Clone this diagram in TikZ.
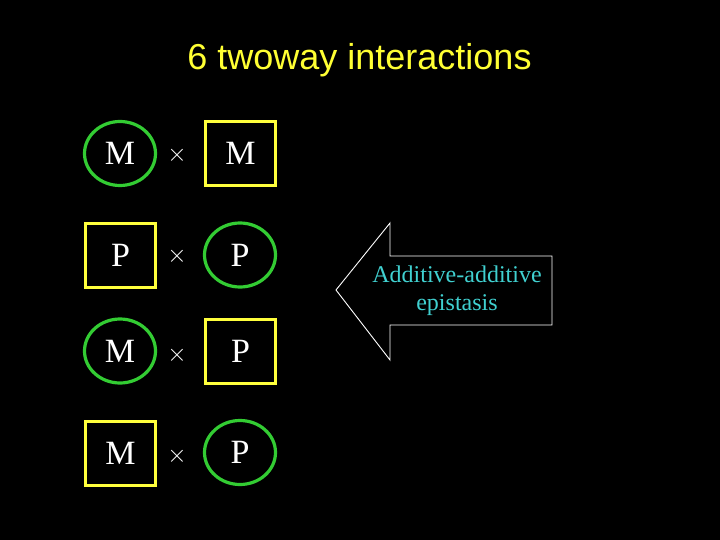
\documentclass[tikz,border=0pt]{standalone}
\usepackage{fontspec}
\setmainfont{Liberation Serif}
\newfontfamily\arialfont{Liberation Sans}
\usetikzlibrary{shapes.geometric}
\definecolor{ttlyellow}{RGB}{255,255,51}
\definecolor{boxyellow}{RGB}{255,255,60}
\definecolor{ringgreen}{RGB}{51,204,51}
\definecolor{tealtext}{RGB}{64,208,208}
\begin{document}
\begin{tikzpicture}[x=1pt,y=-1pt,
  ring/.style={draw=ringgreen,line width=3.2pt,ellipse,minimum width=71pt,minimum height=64pt,inner sep=0pt,text=white,font=\fontsize{34}{34}\selectfont},
  sqbox/.style={draw=boxyellow,line width=3pt,rectangle,minimum width=70pt,minimum height=64pt,inner sep=0pt,text=white,font=\fontsize{34}{34}\selectfont},
  timesnode/.style={text=white,font=\fontsize{30}{30}\selectfont,inner sep=0pt}]
\fill[black] (0,0) rectangle (720,540);
\useasboundingbox (0,0) rectangle (720,540);
\node[text=ttlyellow,font=\arialfont\fontsize{36}{36}\selectfont] (title) at (359.5,60) {6 twoway interactions};
% row 1
\node[ring] (a1) at (120,153.5) {M};
\node[timesnode] (x1) at (177,155) {$\times$};
\node[sqbox] (b1) at (240.5,153.5) {M};
% row 2
\node[sqbox] (a2) at (120.5,255.5) {P};
\node[timesnode] (x2) at (177,256) {$\times$};
\node[ring] (b2) at (240,255) {P};
% row 3
\node[ring] (a3) at (120,351) {M};
\node[timesnode] (x3) at (177,355) {$\times$};
\node[sqbox] (b3) at (240.5,351.5) {P};
% row 4
\node[sqbox] (a4) at (120.5,453.5) {M};
\node[timesnode] (x4) at (177,456) {$\times$};
\node[ring] (b4) at (240,452.5) {P};
% arrow
\coordinate (tip) at (336,290);
\draw[white,line width=0.9pt,line join=miter] (tip) -- (390,223) -- (390,256) -- (552,256) -- (552,325) -- (390,325) -- (390,360) -- cycle;
\node[text=tealtext,font=\fontsize{24}{28}\selectfont,align=center] (lbl) at (457,291) {Additive-additive\\epistasis};
\end{tikzpicture}
\end{document}
